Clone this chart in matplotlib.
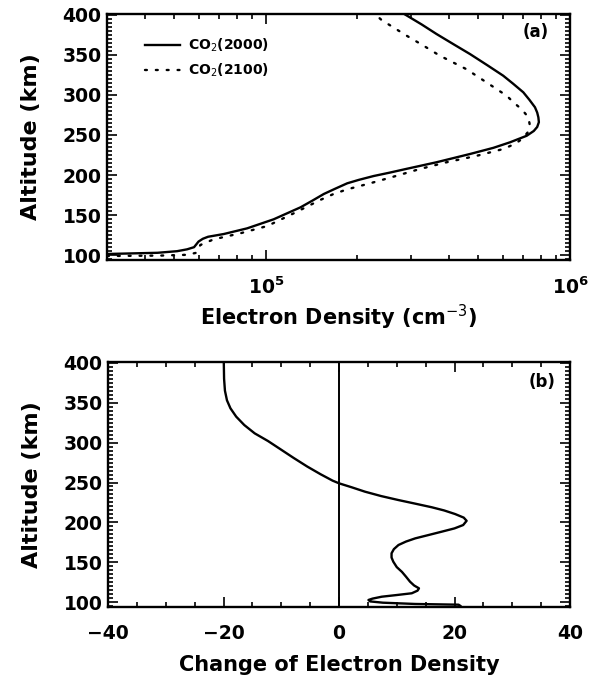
import numpy as np
import matplotlib
matplotlib.use("Agg")
import matplotlib.pyplot as plt
from matplotlib.ticker import MultipleLocator, LogLocator, NullFormatter, FixedLocator

# ---- data: panel (a) electron density profiles (cm^-3) vs altitude (km) ----
alt_2000 = [101.5, 103.0, 105.0, 107.3, 110.0, 113.5, 117.0, 120.5, 123.0, 126.4,
            133.5, 144.8, 159.8, 168.0, 176.4, 183.0, 189.7, 194.0, 198.8, 203.0,
            207.5, 216.0, 226.3, 234.0, 240.9, 249.0, 255.0, 260.0, 266.0, 272.0,
            278.0, 284.6, 294.0, 303.3, 314.0, 324.0, 337.0, 351.0, 363.0, 376.0,
            388.0, 401.0]
ne_2000 = [3.0e4, 4.4e4, 5.1e4, 5.5e4, 5.8e4, 5.9e4, 6.0e4, 6.2e4, 6.45e4, 7.26e4,
           8.67e4, 1.06e5, 1.30e5, 1.42e5, 1.55e5, 1.69e5, 1.85e5, 2.02e5, 2.26e5, 2.55e5,
           2.88e5, 3.64e5, 4.69e5, 5.6e5, 6.35e5, 7.2e5, 7.6e5, 7.8e5, 7.9e5, 7.87e5,
           7.8e5, 7.67e5, 7.35e5, 7.02e5, 6.5e5, 6.03e5, 5.35e5, 4.69e5, 4.15e5, 3.64e5,
           3.25e5, 2.85e5]

alt_2100 = [99.0, 99.5, 100.5, 103.0, 107.0, 112.7, 119.8, 127.3, 136.4, 152.0,
            169.0, 176.0, 182.2, 189.7, 197.5, 207.6, 216.0, 224.0, 232.5, 239.0,
            245.0, 253.0, 261.6, 272.0, 282.0, 290.0, 299.0, 311.5, 332.0, 349.0,
            362.0, 374.0, 393.5, 401.0]
ne_2100 = [3.0e4, 4.5e4, 5.5e4, 5.9e4, 6.0e4, 6.08e4, 6.73e4, 8.23e4, 1.01e5, 1.23e5,
           1.51e5, 1.66e5, 1.85e5, 2.2e5, 2.6e5, 3.21e5, 3.93e5, 4.93e5, 6.03e5, 6.6e5,
           6.95e5, 7.25e5, 7.38e5, 7.3e5, 6.94e5, 6.55e5, 6.19e5, 5.52e5, 4.57e5, 3.73e5,
           3.28e5, 2.9e5, 2.4e5, 2.28e5]

# ---- data: panel (b) change of electron density vs altitude (km) ----
alt_change = [95.5, 96.9, 97.8, 99.4, 101.0, 102.8, 104.5, 106.9, 109.0, 111.2,
              114.5, 117.4, 121.0, 125.7, 132.0, 138.0, 144.0, 150.8, 156.0, 161.3,
              166.5, 171.7, 176.0, 180.0, 184.0, 188.4, 192.5, 196.7, 202.0, 206.0,
              210.5, 215.0, 219.0, 223.5, 228.0, 233.0, 238.5, 244.0, 249.0, 252.3,
              260.4, 270.0, 281.0, 292.0, 302.0, 311.6, 322.0, 332.5, 343.0, 353.0,
              365.0, 380.0, 401.0]
d_change = [21.0, 20.7, 13.2, 7.6, 5.4, 5.1, 5.8, 7.4, 10.0, 12.6,
            13.6, 13.85, 13.0, 12.3, 11.6, 10.9, 10.0, 9.4, 9.1, 9.1,
            9.5, 10.3, 11.6, 13.2, 15.4, 17.8, 20.0, 21.5, 22.1, 21.6,
            20.1, 18.2, 16.05, 13.2, 10.3, 7.3, 4.5, 2.2, 0.0, -1.1,
            -3.2, -5.5, -7.9, -10.2, -12.3, -14.6, -16.4, -17.8, -18.8, -19.4,
            -19.75, -19.9, -19.95]

ylim = (94, 401)
xlim_a = (3.0e4, 1.0e6)
xlim_b = (-40, 40)
xticks_b = [-40, -20, 0, 20, 40]
yticks = [100, 150, 200, 250, 300, 350, 400]

W, H = 599, 676
fig = plt.figure(figsize=(W / 100, H / 100), dpi=100)

def frac(l, t, r, b):
    return [l / W, 1 - b / H, (r - l) / W, (b - t) / H]

lw = 1.7
fs_tick = 13.5
fs_lab = 15

def style(ax):
    for s in ax.spines.values():
        s.set_linewidth(1.7)
    ax.tick_params(which="both", direction="in", top=True, right=True,
                   width=1.2, labelsize=fs_tick, colors="black")
    ax.tick_params(which="major", length=7)
    ax.tick_params(which="minor", length=3.5)
    ax.tick_params(axis="y", which="both", pad=4)
    ax.set_ylim(*ylim)
    ax.yaxis.set_major_locator(FixedLocator(yticks))
    ax.yaxis.set_minor_locator(MultipleLocator(5))
    ax.set_ylabel("Altitude (km)", fontsize=16, fontweight="bold", labelpad=15)
    for lab in ax.get_xticklabels() + ax.get_yticklabels():
        lab.set_fontweight("bold")

# panel (a)
ax1 = fig.add_axes(frac(107, 14, 570, 260))
ax1.plot(ne_2000, alt_2000, color="black", lw=lw, label="CO$_2$(2000)")
ax1.plot(ne_2100, alt_2100, color="black", lw=lw, linestyle=(0, (0.8, 3.8)),
         dash_capstyle="round", label="CO$_2$(2100)")
ax1.set_xscale("log")
ax1.set_xlim(*xlim_a)
ax1.xaxis.set_major_locator(LogLocator(base=10, numticks=10))
ax1.xaxis.set_minor_locator(LogLocator(base=10, subs=np.arange(2, 10), numticks=20))
ax1.xaxis.set_minor_formatter(NullFormatter())
style(ax1)
ax1.tick_params(axis="x", which="both", pad=12)
ax1.set_xlabel("Electron Density (cm$^{-3}$)", fontsize=fs_lab, fontweight="bold",
               labelpad=3)
ax1.text(0.925, 0.925, "(a)", transform=ax1.transAxes, ha="center", va="center",
         fontsize=12, fontweight="bold")
leg = ax1.legend(loc="upper left", bbox_to_anchor=(0.07, 0.93), frameon=False,
                 prop={"size": 10, "weight": "bold"}, handlelength=2.5,
                 handletextpad=0.6, labelspacing=0.55, borderaxespad=0)

# panel (b)
ax2 = fig.add_axes(frac(108, 362, 570, 607))
ax2.plot(d_change, alt_change, color="black", lw=lw)
ax2.axvline(0, color="black", lw=1.4)
ax2.set_xlim(*xlim_b)
ax2.set_xticks(xticks_b)
ax2.xaxis.set_minor_locator(MultipleLocator(5))
style(ax2)
ax2.tick_params(axis="x", which="both", pad=12)
ax2.set_xlabel("Change of Electron Density", fontsize=fs_lab, fontweight="bold",
               labelpad=9)
ax2.text(0.94, 0.92, "(b)", transform=ax2.transAxes, ha="center", va="center",
         fontsize=12, fontweight="bold")

fig.savefig("out.png", dpi=100)
